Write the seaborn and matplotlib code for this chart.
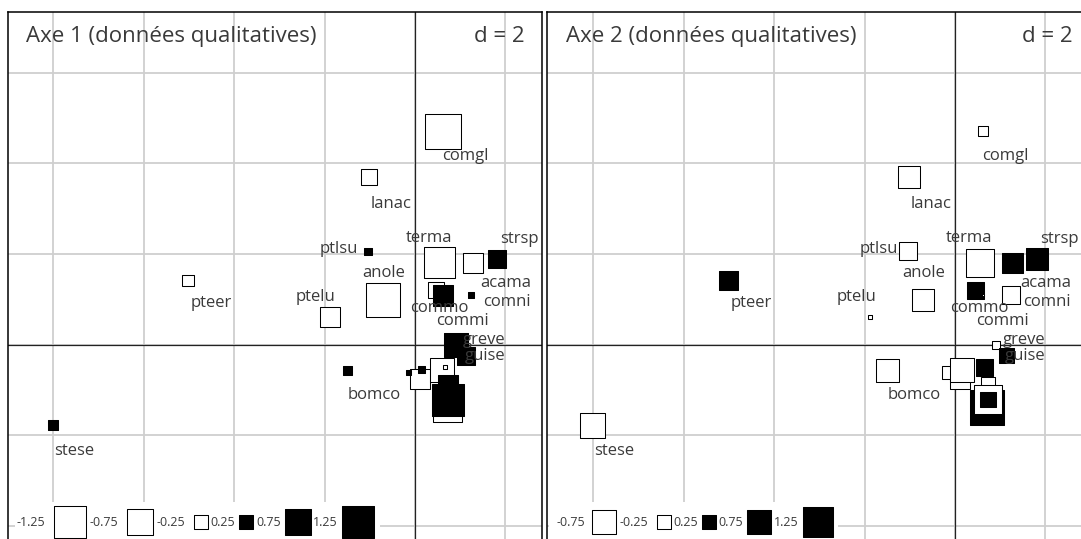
import numpy as np
import pandas as pd
import matplotlib
matplotlib.use("Agg")
import matplotlib.pyplot as plt
from matplotlib.patches import Rectangle
import seaborn as sns

# ---------------- data ----------------
# square positions (shared by both panels)
sq_x = [0.62, -1.02, -1.04, 0.55, 1.28, 1.81, 1.24, 0.46, 0.62, -0.71, -1.88, -5.02,
        -8.01, -1.50, 0.91, 1.13, 0.11, -0.15, 0.15, 0.60, 0.66, 0.73, 0.71, 0.73, 0.73]
sq_y = [4.71, 3.70, 2.06, 1.80, 1.80, 1.89, 1.09, 1.20, 1.09, 0.98, 0.61, 1.42,
        -1.78, -0.58, -0.01, -0.25, -0.76, -0.61, -0.56, -0.56, -0.50, -0.89, -1.39, -1.22, -1.22]
# values on axis 1 and axis 2
val_ax1 = [-1.46, -0.30, 0.06, -1.14, -0.48, 0.39, 0.04, -0.30, 0.52, -1.37, -0.45, -0.15,
           0.12, 0.10, 0.68, 0.39, -0.50, 0.03, 0.06, -0.69, -0.02, 0.48, -1.00, 1.22, 0.02]
val_ax2 = [-0.14, -0.66, -0.44, -1.08, 0.60, 0.66, -0.44, 0.40, -0.01, -0.66, -0.02, 0.50,
           -0.86, -0.73, -0.09, 0.31, -0.60, -0.24, -0.80, -0.05, 0.40, -0.30, 1.60, -1.15, 0.31]

# species labels
labels = ["comgl", "lanac", "ptlsu", "terma", "strsp", "acama", "comni", "commo",
          "commi", "anole", "ptelu", "pteer", "stese", "bomco", "greve", "guise"]
lab_x = [1.11, -0.53, -1.68, 0.31, 2.30, 2.01, 2.04, 0.53, 1.04, -0.69, -2.19, -4.51,
         -7.54, -0.91, 1.53, 1.55]
lab_y = [4.18, 3.12, 2.13, 2.37, 2.33, 1.36, 0.96, 0.81, 0.54, 1.58, 1.05, 0.92,
         -2.33, -1.11, 0.12, -0.25]

titles = ["Axe 1 (données qualitatives)", "Axe 2 (données qualitatives)"]
grid_d = 2
legend_ax1 = [-1.25, -0.75, -0.25, 0.25, 0.75, 1.25]
legend_ax2 = [-0.75, -0.25, 0.25, 0.75, 1.25]

# ---------------- style ----------------
sns.set_style("white")
plt.rcParams["font.family"] = ["Open Sans", "DejaVu Sans"]
TXT = "#3a3a3a"

W, H = 1081, 539
fig = plt.figure(figsize=(W / 100, H / 100), dpi=100)

def fpx(x0, x1, ytop, ybot):
    return [x0 / W, 1 - ybot / H, (x1 - x0) / W, (ybot - ytop) / H]

panels = [
    dict(rect=fpx(8, 542, 12, 544), xlim=(-9.004, 2.810), vals=val_ax1, c=436.0,
         leg=legend_ax1, title_dx=18, d_dx=-17,
         leg_sq=[70, 140, 201, 246, 298, 358], leg_tx=[45, 118, 185, 235, 281, 338],
         leg_box=(15, 380)),
    dict(rect=fpx(547, 1084, 12, 544), xlim=(-9.027, 2.854), vals=val_ax2, c=378.0,
         leg=legend_ax2, title_dx=19, d_dx=-11,
         leg_sq=[604, 664, 709, 759, 818], leg_tx=[585, 648, 698, 743, 799],
         leg_box=(549, 838)),
]
ylim = (-4.404, 7.34)

for i, p in enumerate(panels):
    ax = fig.add_axes(p["rect"])
    ax.set_xlim(*p["xlim"])
    ax.set_ylim(*ylim)
    ax.set_xticks(np.arange(-8, 3, grid_d))
    ax.set_yticks(np.arange(-4, 7, grid_d))
    ax.grid(True, color="#cfcfcf", lw=1.3, zorder=0)
    ax.tick_params(length=0, labelbottom=False, labelleft=False)
    ax.set_axisbelow(True)
    for s in ax.spines.values():
        s.set_color("black")
        s.set_linewidth(1.1)
    ax.axhline(0, color="#222222", lw=0.9, zorder=1)
    ax.axvline(0, color="#222222", lw=0.9, zorder=1)

    vals = np.array(p["vals"])
    df = pd.DataFrame({"x": sq_x, "y": sq_y, "v": vals,
                       "a": np.abs(vals),
                       "sign": np.where(vals < 0, "neg", "pos")})
    sns.scatterplot(data=df, x="x", y="y", hue="sign", size="a",
                    palette={"neg": "white", "pos": "black"},
                    size_norm=(0, 2), sizes=(0, p["c"] * 2),
                    marker="s", edgecolor="black", linewidth=0.75,
                    legend=False, ax=ax, zorder=3)
    ax.set_xlabel("")
    ax.set_ylabel("")

    for name, lx, ly in zip(labels, lab_x, lab_y):
        ax.annotate(name, xy=(lx, ly), xytext=(0, -4.5), textcoords="offset pixels",
                    ha="center", va="baseline", fontsize=12, color=TXT, zorder=4)

    ax.annotate(titles[i], xy=(0, 1), xycoords="axes fraction",
                xytext=(p["title_dx"], -30), textcoords="offset pixels",
                ha="left", va="baseline", fontsize=16, color=TXT, zorder=5)
    ax.annotate(f"d = {grid_d}", xy=(1, 1), xycoords="axes fraction",
                xytext=(p["d_dx"], -30), textcoords="offset pixels",
                ha="right", va="baseline", fontsize=16, color=TXT, zorder=5)

    # legend (size key)
    bx0, bx1 = p["leg_box"]
    ax.add_patch(Rectangle((bx0 / W, 0), (bx1 - bx0) / W, (H - 502) / H,
                           transform=fig.transFigure, facecolor="white",
                           edgecolor="none", zorder=6))
    ly_fig = 1 - 522 / H
    lv = np.array(p["leg"])
    ax.scatter([xx / W for xx in p["leg_sq"]], [ly_fig] * len(lv),
               s=p["c"] * np.abs(lv), marker="s",
               c=["white" if v < 0 else "black" for v in lv],
               edgecolors="black", linewidths=0.75,
               transform=fig.transFigure, zorder=7, clip_on=False)
    for v, tx in zip(lv, p["leg_tx"]):
        ax.text(tx / W, ly_fig, f"{v:g}", transform=fig.transFigure,
                ha="right", va="center", fontsize=9, color=TXT, zorder=7)

fig.savefig("out.png", dpi=100)
